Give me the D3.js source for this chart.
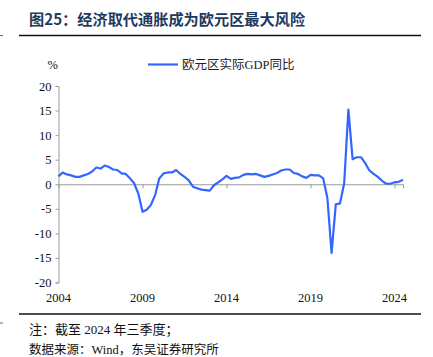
<!DOCTYPE html>
<html>
<head>
<meta charset="utf-8">
<script src="https://cdn.jsdelivr.net/npm/d3@7"></script>
<style>
  html, body { margin: 0; padding: 0; background: #fff; }
  svg { display: block; }
</style>
</head>
<body>
<script>
// ---- data ----
const startYear = 2004;
const seriesName = "欧元区实际GDP同比";
const gdpYoY = [
  1.6, 2.4, 2.0, 1.8,   // 2004
  1.5, 1.5, 1.8, 2.1,   // 2005
  2.6, 3.4, 3.2, 3.8,   // 2006
  3.5, 3.0, 2.9, 2.2,   // 2007
  2.1, 1.2, 0.2, -1.9,  // 2008
  -5.6, -5.2, -4.2, -2.2, // 2009
  1.2, 2.2, 2.4, 2.4,   // 2010
  2.9, 2.1, 1.5, 0.8,   // 2011
  -0.5, -0.8, -1.1, -1.2, // 2012
  -1.3, -0.2, 0.4, 1.0, // 2013
  1.7, 1.1, 1.3, 1.4,   // 2014
  1.9, 2.1, 2.0, 2.1,   // 2015
  1.8, 1.5, 1.7, 2.0,   // 2016
  2.3, 2.8, 3.0, 3.0,   // 2017
  2.3, 2.1, 1.6, 1.3,   // 2018
  1.9, 1.8, 1.8, 1.2,   // 2019
  -2.8, -14.0, -4.1, -3.9, // 2020
  0.2, 15.2, 5.1, 5.5,  // 2021
  5.5, 4.3, 2.8, 2.1,   // 2022
  1.5, 0.7, 0.1, 0.1,   // 2023
  0.4, 0.5, 0.9         // 2024 Q1-Q3
];
const xTicks = [2004, 2009, 2014, 2019, 2024];
const yTicks = [-20, -15, -10, -5, 0, 5, 10, 15, 20];
const titleText = "图25：经济取代通胀成为欧元区最大风险";
const noteText = "注：截至 2024 年三季度；";
const sourceText = "数据来源：Wind，东吴证券研究所";

// ---- chart ----
const W = 433, H = 357;
const latin = "'Liberation Serif','Times New Roman','Noto Sans CJK SC',serif";
const cjk = "'Liberation Serif','Noto Sans CJK SC',serif";

const svg = d3.select("body").append("svg").attr("width", W).attr("height", H);

const points = gdpYoY.map((v, i) => ({ t: startYear + i / 4, v }));

const x = d3.scaleLinear().domain([2004, 2024.5]).range([58.5, 403]);
const y = d3.scaleLinear().domain([-20, 20]).range([282.5, 86]);

// title
svg.append("text")
  .attr("x", 29).attr("y", 25)
  .attr("font-family", "'Noto Sans CJK SC',sans-serif")
  .attr("font-weight", "bold")
  .attr("font-size", 15.2)
  .attr("fill", "#1f3a60")
  .text(titleText);
svg.append("line").attr("x1", 19).attr("x2", 421).attr("y1", 35.5).attr("y2", 35.5)
  .attr("stroke", "#111").attr("stroke-width", 1.6);
svg.append("line").attr("x1", 0).attr("x2", 3).attr("y1", 35.5).attr("y2", 35.5)
  .attr("stroke", "#666").attr("stroke-width", 1);

// y axis
const yAxis = d3.axisLeft(y).tickValues(yTicks).tickSize(3).tickPadding(4)
  .tickFormat(d => String(d));
const gy = svg.append("g").attr("transform", "translate(58.5,0)").call(yAxis);
gy.attr("font-family", latin);
gy.select(".domain").attr("stroke", "#9a9a9a");
gy.selectAll(".tick line").attr("stroke", "#9a9a9a");
gy.selectAll("text").attr("font-family", latin).attr("font-size", 12.5).attr("fill", "#111");

// x axis at zero line
const xAxis = d3.axisBottom(x).tickValues(xTicks.filter(d => d !== 2004)).tickSize(4).tickFormat("");
const gx = svg.append("g").attr("transform", `translate(0,${y(0)})`).call(xAxis);
gx.select(".domain").attr("stroke", "#9a9a9a");
gx.selectAll(".tick line").attr("stroke", "#9a9a9a");

// x labels at bottom
svg.append("g").selectAll("text").data(xTicks).join("text")
  .attr("x", d => x(d)).attr("y", 302)
  .attr("text-anchor", "middle")
  .attr("font-family", latin).attr("font-size", 12.5).attr("fill", "#111")
  .text(d => d);

// % unit
svg.append("text").attr("x", 47.5).attr("y", 69)
  .attr("font-family", latin).attr("font-size", 12.5).attr("fill", "#111").text("%");

// legend
svg.append("line").attr("x1", 148).attr("x2", 178).attr("y1", 64.5).attr("y2", 64.5)
  .attr("stroke", "#3366ff").attr("stroke-width", 2.2);
svg.append("text").attr("x", 182).attr("y", 69)
  .attr("font-family", cjk).attr("font-size", 12.5).attr("fill", "#222").text(seriesName);

// line
svg.append("path").datum(points)
  .attr("fill", "none").attr("stroke", "#3366ff").attr("stroke-width", 2.2)
  .attr("stroke-linejoin", "round")
  .attr("d", d3.line().x(d => x(d.t)).y(d => y(d.v)));

// bottom rule and notes
svg.append("line").attr("x1", 19).attr("x2", 421).attr("y1", 314).attr("y2", 314)
  .attr("stroke", "#111").attr("stroke-width", 1.4);
svg.append("line").attr("x1", 0).attr("x2", 3).attr("y1", 323).attr("y2", 323)
  .attr("stroke", "#666").attr("stroke-width", 1);
svg.append("text").attr("x", 29).attr("y", 334)
  .attr("font-family", cjk).attr("font-size", 13).attr("fill", "#111").text(noteText);
svg.append("text").attr("x", 29).attr("y", 353.5)
  .attr("font-family", cjk).attr("font-size", 12.5).attr("fill", "#111").text(sourceText);
</script>
</body>
</html>
